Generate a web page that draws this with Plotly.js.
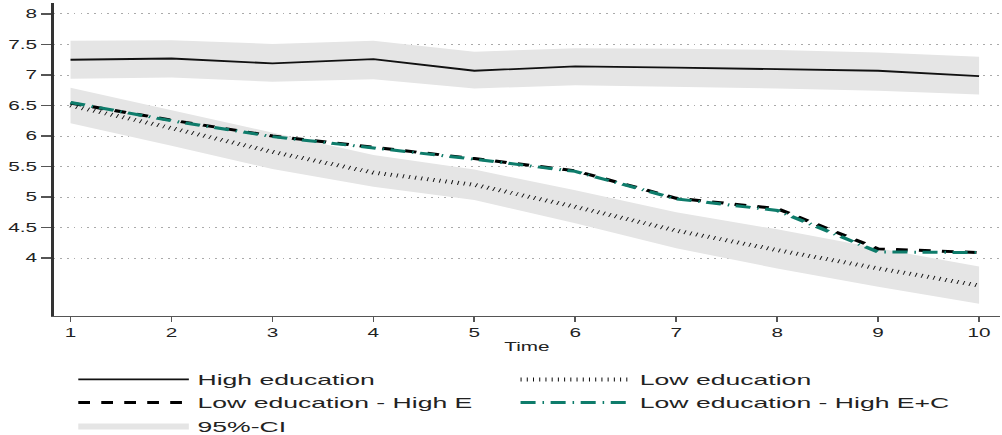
<!DOCTYPE html>
<html>
<head>
<meta charset="utf-8">
<script src="https://cdn.plot.ly/plotly-3.0.1.min.js"></script>
<style>
  html, body { margin: 0; padding: 0; background: #fff; overflow: hidden; }
  #chart { width: 580px; height: 435px; transform: scaleX(1.72759); transform-origin: 0 0; }
</style>
</head>
<body>
<div id="chart"></div>
<script>
// ---- data ----
const time = [1, 2, 3, 4, 5, 6, 7, 8, 9, 10];
const highEdu   = [7.25, 7.27, 7.19, 7.26, 7.07, 7.14, 7.12, 7.10, 7.07, 6.98];
const highUpper = [7.56, 7.57, 7.51, 7.56, 7.38, 7.44, 7.43, 7.41, 7.37, 7.30];
const highLower = [6.94, 6.96, 6.89, 6.93, 6.78, 6.83, 6.81, 6.78, 6.74, 6.68];
const lowEdu    = [6.50, 6.13, 5.74, 5.40, 5.20, 4.84, 4.45, 4.13, 3.83, 3.55];
const lowUpper  = [6.79, 6.42, 6.05, 5.69, 5.45, 5.11, 4.75, 4.47, 4.16, 3.86];
const lowLower  = [6.21, 5.84, 5.46, 5.17, 4.95, 4.57, 4.16, 3.83, 3.53, 3.25];
const lowHighE  = [6.54, 6.26, 6.00, 5.82, 5.63, 5.43, 4.98, 4.81, 4.15, 4.09];
const lowHighEC = [6.55, 6.25, 5.99, 5.81, 5.62, 5.42, 4.97, 4.78, 4.10, 4.09];
const yTicks = [4, 4.5, 5, 5.5, 6, 6.5, 7, 7.5, 8];
const yTickText = ['4', '4.5', '5', '5.5', '6', '6.5', '7', '7.5', '8'];
const xTicks = time;
const names = ['High education', 'Low education', 'Low education - High E', 'Low education - High E+C', '95%-CI'];

// ---- build band polygons ----
const bandX = time.concat(time.slice().reverse());
const highBandY = highUpper.concat(highLower.slice().reverse());
const lowBandY = lowUpper.concat(lowLower.slice().reverse());

const FONT = 'Liberation Sans, Arial, Helvetica, sans-serif';
const BAND = '#e5e5e5';
const TEAL = '#0e7c6b';

const traces = [
  { x: bandX, y: highBandY, type: 'scatter', mode: 'lines', fill: 'toself', fillcolor: BAND,
    line: { width: 0, color: BAND }, showlegend: false, hoverinfo: 'skip', name: names[4] },
  { x: bandX, y: lowBandY, type: 'scatter', mode: 'lines', fill: 'toself', fillcolor: BAND,
    line: { width: 0, color: BAND }, showlegend: true, legendrank: 5, name: names[4] },
  { x: time, y: highEdu, type: 'scatter', mode: 'lines', name: names[0], legendrank: 1,
    line: { color: '#111', width: 1.8 } },
  { x: time, y: lowEdu, type: 'scatter', mode: 'lines', name: names[1], legendrank: 2,
    line: { color: '#111', width: 4, dash: '0.6px,3px' } },
  { x: time, y: lowHighE, type: 'scatter', mode: 'lines', name: names[2], legendrank: 3,
    line: { color: '#000', width: 3, dash: '6.8px,6.5px' } },
  { x: time, y: lowHighEC, type: 'scatter', mode: 'lines', name: names[3], legendrank: 4,
    line: { color: TEAL, width: 3, dash: '8.7px,4px,0.9px,3.8px' } }
];

const layout = {
  width: 580, height: 435,
  margin: { l: 30.7, r: 1, t: 3, b: 119, autoexpand: false },
  paper_bgcolor: '#fff', plot_bgcolor: '#fff',
  font: { family: FONT, size: 12, color: '#222' },
  xaxis: {
    range: [0.832, 10.21], tickvals: xTicks, ticktext: xTicks.map(String),
    showgrid: false, zeroline: false, showline: true, linecolor: '#555', linewidth: 1.2,
    ticks: 'outside', ticklen: 5, tickwidth: 1, tickcolor: '#555',
    tickfont: { family: FONT, size: 12, color: '#222' },
    title: { text: 'Time', font: { family: FONT, size: 12, color: '#222' }, standoff: 4 }
  },
  yaxis: {
    range: [3.05, 8.18], tickvals: yTicks, ticktext: yTickText,
    showgrid: true, gridcolor: '#aaa', gridwidth: 1, griddash: '1px,2.9px',
    zeroline: false, showline: true, linecolor: '#333', linewidth: 1.2,
    ticks: 'outside', ticklen: 6, tickwidth: 1.2, tickcolor: '#555',
    tickfont: { family: FONT, size: 12, color: '#222' }
  },
  showlegend: true,
  legend: {
    orientation: 'h', x: 0.017, xanchor: 'left', y: -0.150, yanchor: 'top',
    traceorder: 'normal', itemwidth: 64, entrywidth: 177,
    font: { family: FONT, size: 15.4, color: '#222' },
    bgcolor: 'rgba(0,0,0,0)', borderwidth: 0, tracegroupgap: 0
  }
};

Plotly.newPlot('chart', traces, layout, { displayModeBar: false, staticPlot: true });
</script>
</body>
</html>
